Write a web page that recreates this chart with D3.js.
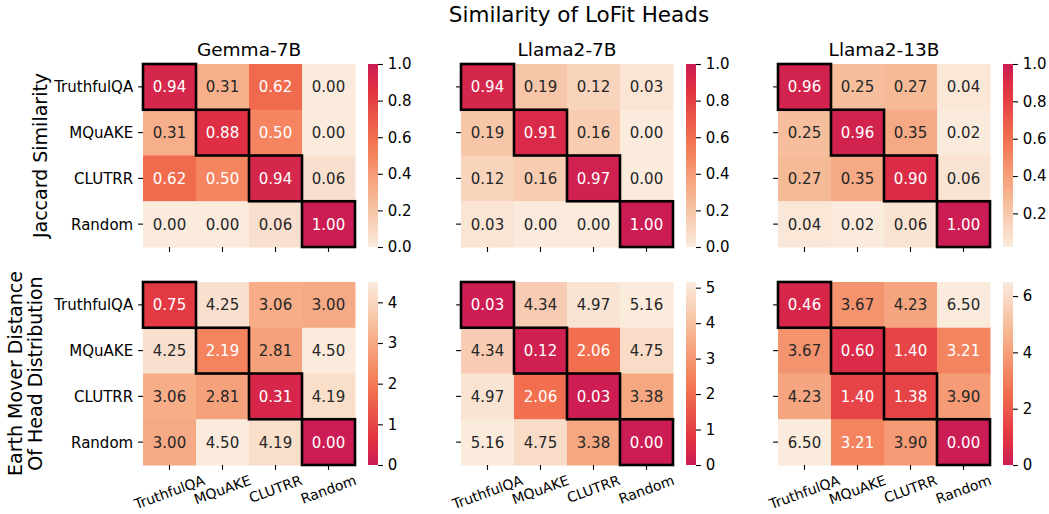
<!DOCTYPE html>
<html>
<head>
<meta charset="utf-8">
<script src="https://cdn.jsdelivr.net/npm/d3@7"></script>
<style>
  html, body { margin: 0; padding: 0; background: #fff; }
  svg { display: block; font-family: "DejaVu Sans", sans-serif; }
</style>
</head>
<body>
<svg id="chart" width="1049" height="514"></svg>
<script>
// ---------------- DATA ----------------
const categories = ["TruthfulQA", "MQuAKE", "CLUTRR", "Random"];
const models = ["Gemma-7B", "Llama2-7B", "Llama2-13B"];
const mainTitle = "Similarity of LoFit Heads";
const rowLabels = [["Jaccard Similarity"], ["Earth Mover Distance", "Of Head Distribution"]];

const jaccardGemma = [[0.94,0.31,0.62,0.00],[0.31,0.88,0.50,0.00],[0.62,0.50,0.94,0.06],[0.00,0.00,0.06,1.00]];
const jaccardLlama7 = [[0.94,0.19,0.12,0.03],[0.19,0.91,0.16,0.00],[0.12,0.16,0.97,0.00],[0.03,0.00,0.00,1.00]];
const jaccardLlama13 = [[0.96,0.25,0.27,0.04],[0.25,0.96,0.35,0.02],[0.27,0.35,0.90,0.06],[0.04,0.02,0.06,1.00]];
const emdGemma = [[0.75,4.25,3.06,3.00],[4.25,2.19,2.81,4.50],[3.06,2.81,0.31,4.19],[3.00,4.50,4.19,0.00]];
const emdLlama7 = [[0.03,4.34,4.97,5.16],[4.34,0.12,2.06,4.75],[4.97,2.06,0.03,3.38],[5.16,4.75,3.38,0.00]];
const emdLlama13 = [[0.46,3.67,4.23,6.50],[3.67,0.60,1.40,3.21],[4.23,1.40,1.38,3.90],[6.50,3.21,3.90,0.00]];

const jaccardTicks = [[0,0.2,0.4,0.6,0.8,1.0],[0,0.2,0.4,0.6,0.8,1.0],[0.2,0.4,0.6,0.8,1.0]];
const emdTicks = [[0,1,2,3,4],[0,1,2,3,4,5],[0,2,4,6]];

// ---------------- LAYOUT ----------------
const svg = d3.select("#chart");
const colLeft = [143, 461, 778];
const rowTop = [64, 282];
const hmW = 212, hmH = 183;
const cbGap = 13, cbW = 10;
const tickLen = 4.9, tickPad = 4.9;
const fs = 15;
const fsX = 14;

// truncated rocket_r colormap (cream -> crimson)
const cmap = d3.scaleLinear()
  .domain([0, 0.2857, 0.5714, 0.8571, 1])
  .range(["#faebdd", "#f6b48f", "#f37651", "#e13342", "#cc1c54"])
  .interpolate(d3.interpolateRgb)
  .clamp(true);

function lum(c) {
  const rgb = d3.rgb(c);
  const f = v => { v /= 255; return v <= 0.03928 ? v / 12.92 : Math.pow((v + 0.055) / 1.055, 2.4); };
  return 0.2126 * f(rgb.r) + 0.7152 * f(rgb.g) + 0.0722 * f(rgb.b);
}

const panels = [
  { row: 0, col: 0, data: jaccardGemma, ticks: jaccardTicks[0], reverse: false, fmt: d3.format(".1f") },
  { row: 0, col: 1, data: jaccardLlama7, ticks: jaccardTicks[1], reverse: false, fmt: d3.format(".1f") },
  { row: 0, col: 2, data: jaccardLlama13, ticks: jaccardTicks[2], reverse: false, fmt: d3.format(".1f") },
  { row: 1, col: 0, data: emdGemma, ticks: emdTicks[0], reverse: true, fmt: d3.format("d") },
  { row: 1, col: 1, data: emdLlama7, ticks: emdTicks[1], reverse: true, fmt: d3.format("d") },
  { row: 1, col: 2, data: emdLlama13, ticks: emdTicks[2], reverse: true, fmt: d3.format("d") },
];

const defs = svg.append("defs");

panels.forEach((p, pi) => {
  const x0 = colLeft[p.col], y0 = rowTop[p.row];
  const flat = p.data.flat();
  const vmin = d3.min(flat), vmax = d3.max(flat);
  const norm = d3.scaleLinear().domain([vmin, vmax]).range(p.reverse ? [1, 0] : [0, 1]);
  const color = v => cmap(norm(v));

  const x = d3.scaleBand().domain(categories).range([x0, x0 + hmW]);
  const y = d3.scaleBand().domain(categories).range([y0, y0 + hmH]);

  const g = svg.append("g");
  const cells = [];
  p.data.forEach((row, i) => row.forEach((v, j) => cells.push({ i, j, v })));

  g.selectAll("rect.cell").data(cells).enter().append("rect")
    .attr("x", d => x(categories[d.j]))
    .attr("y", d => y(categories[d.i]))
    .attr("width", x.bandwidth() + 0.5)
    .attr("height", y.bandwidth() + 0.5)
    .attr("fill", d => color(d.v));

  g.selectAll("text.ann").data(cells).enter().append("text")
    .attr("x", d => x(categories[d.j]) + x.bandwidth() / 2)
    .attr("y", d => y(categories[d.i]) + y.bandwidth() / 2)
    .attr("dy", "0.36em")
    .attr("text-anchor", "middle")
    .attr("font-size", fs)
    .attr("fill", d => lum(color(d.v)) > 0.408 ? "#262626" : "#ffffff")
    .text(d => d.v.toFixed(2));

  // diagonal outlines
  g.selectAll("rect.diag").data(categories).enter().append("rect")
    .attr("x", d => x(d)).attr("y", d => y(d))
    .attr("width", x.bandwidth()).attr("height", y.bandwidth())
    .attr("fill", "none").attr("stroke", "#000").attr("stroke-width", 2.6);

  // y ticks
  const yt = g.append("g");
  categories.forEach(c => {
    const cy = y(c) + y.bandwidth() / 2;
    yt.append("line").attr("x1", x0 - tickLen).attr("x2", x0).attr("y1", cy).attr("y2", cy)
      .attr("stroke", "#000").attr("stroke-width", 1.1);
    if (p.col === 0) {
      yt.append("text").attr("x", x0 - tickLen - tickPad).attr("y", cy).attr("dy", "0.36em")
        .attr("text-anchor", "end").attr("font-size", fs).attr("fill", "#000").text(c);
    }
  });

  // x ticks
  const xt = g.append("g");
  categories.forEach(c => {
    const cx = x(c) + x.bandwidth() / 2;
    const yb = y0 + hmH;
    xt.append("line").attr("x1", cx).attr("x2", cx).attr("y1", yb).attr("y2", yb + tickLen)
      .attr("stroke", "#000").attr("stroke-width", 1.1);
    if (p.row === 1) {
      const t = xt.append("text").attr("text-anchor", "middle").attr("font-size", fsX)
        .attr("fill", "#000").attr("dy", "0.346em").text(c);
      const w = t.node().getComputedTextLength();
      const h = fsX * 1.164;
      const a = 20 * Math.PI / 180;
      const H = w * Math.sin(a) + h * Math.cos(a);
      const top = yb + tickLen + 2;
      t.attr("transform", `translate(${cx},${top + H / 2}) rotate(-20)`);
    }
  });

  // colorbar
  const cbx = x0 + hmW + cbGap;
  const gid = "grad" + pi;
  const grad = defs.append("linearGradient").attr("id", gid)
    .attr("x1", 0).attr("y1", 1).attr("x2", 0).attr("y2", 0);
  d3.range(0, 1.0001, 0.02).forEach(f => {
    const v = vmin + f * (vmax - vmin);
    grad.append("stop").attr("offset", f).attr("stop-color", color(v));
  });
  const cy = d3.scaleLinear().domain([vmin, vmax]).range([y0 + hmH, y0]);
  g.append("rect").attr("x", cbx).attr("y", y0).attr("width", cbW).attr("height", hmH)
    .attr("fill", `url(#${gid})`);
  const cbAxis = d3.axisRight(cy).tickValues(p.ticks).tickFormat(p.fmt)
    .tickSize(tickLen).tickPadding(tickPad);
  const ag = g.append("g").attr("transform", `translate(${cbx + cbW},0)`).call(cbAxis);
  ag.select(".domain").remove();
  ag.selectAll(".tick line").attr("stroke", "#000").attr("stroke-width", 1.1);
  ag.selectAll(".tick text").attr("font-size", fs).attr("fill", "#000")
    .attr("font-family", "DejaVu Sans, sans-serif");

  // subtitle
  if (p.row === 0) {
    svg.append("text").attr("x", x0 + hmW / 2).attr("y", 55.5).attr("text-anchor", "middle")
      .attr("font-size", 18.5).attr("fill", "#000").text(models[p.col]);
  }
});

// row labels
svg.append("text").attr("transform", `translate(47,${rowTop[0] + hmH / 2}) rotate(-90)`)
  .attr("text-anchor", "middle").attr("font-size", 19).attr("fill", "#000").text(rowLabels[0][0]);
const rl = [22, 41.5];
rowLabels[1].forEach((s, k) => {
  svg.append("text").attr("transform", `translate(${rl[k]},${rowTop[1] + hmH / 2}) rotate(-90)`)
    .attr("text-anchor", "middle").attr("font-size", 19).attr("fill", "#000").text(s);
});

// main title
svg.append("text").attr("x", 579).attr("y", 22).attr("text-anchor", "middle")
  .attr("font-size", 21.5).attr("fill", "#000").text(mainTitle);
</script>
</body>
</html>
